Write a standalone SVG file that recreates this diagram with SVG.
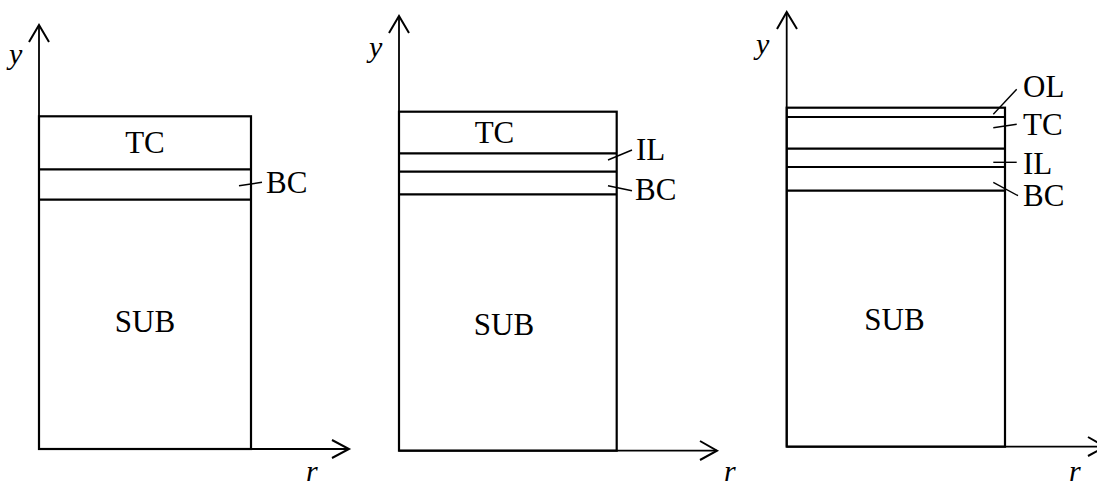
<svg xmlns="http://www.w3.org/2000/svg" width="1097" height="486" viewBox="0 0 1097 486">
<style>
.ax{stroke:#000;stroke-width:1.8;fill:none}
.hd{stroke:#000;stroke-width:2;fill:none}
.bx{stroke:#000;stroke-width:2.2;fill:none}
.ld{stroke:#000;stroke-width:1.4;fill:none}
.t{font-family:"Liberation Serif","Times New Roman",serif;font-size:31px;fill:#000}
.i{font-family:"Liberation Serif","Times New Roman",serif;font-size:30px;font-style:italic;fill:#000}
</style>
<rect width="1097" height="486" fill="#fff"/>
<g id="connectors">
<line class="ax" x1="39" y1="449" x2="39" y2="26"/>
<polyline class="hd" points="29,42 39,25 49,42"/>
<line class="ax" x1="39" y1="449" x2="349" y2="449"/>
<polyline class="hd" points="332,440 349,449 332,458"/>
<line class="ax" x1="399" y1="450.7" x2="399" y2="17"/>
<polyline class="hd" points="389,33 399,16 409,33"/>
<line class="ax" x1="399" y1="450.7" x2="717" y2="450.7"/>
<polyline class="hd" points="700,441 717,450.7 700,460"/>
<line class="ax" x1="786.7" y1="446.7" x2="786.7" y2="13"/>
<polyline class="hd" points="777,29 786.7,12 797,29"/>
<line class="ax" x1="786.7" y1="446.7" x2="1105" y2="446.7"/>
<polyline class="hd" points="1088,437 1105,446.7 1088,456"/>
<line class="ld" x1="239" y1="185.7" x2="262" y2="182.3"/>
<line class="ld" x1="608" y1="160" x2="632" y2="150"/>
<line class="ld" x1="608" y1="185.7" x2="632" y2="190.7"/>
<line class="ld" x1="993.3" y1="114.3" x2="1016.7" y2="89.3"/>
<line class="ld" x1="993.3" y1="127.7" x2="1016.7" y2="124.3"/>
<line class="ld" x1="993.3" y1="162.3" x2="1016.7" y2="162.3"/>
<line class="ld" x1="993.3" y1="182.3" x2="1018" y2="195.7"/>
</g>
<g id="panel1">
<rect class="bx" x="39" y="116.3" width="212" height="332.7"/>
<line class="bx" x1="39" y1="169.3" x2="251" y2="169.3"/>
<line class="bx" x1="39" y1="199.7" x2="251" y2="199.7"/>
<text class="i" x="9" y="64">y</text>
<text class="i" x="306" y="481">r</text>
<text class="t" x="145" y="153" text-anchor="middle">TC</text>
<text class="t" x="266" y="193">BC</text>
<text class="t" x="145" y="332" text-anchor="middle">SUB</text>
</g>
<g id="panel2">
<rect class="bx" x="399" y="111.7" width="217.7" height="339"/>
<line class="bx" x1="399" y1="153.3" x2="616.7" y2="153.3"/>
<line class="bx" x1="399" y1="171.7" x2="616.7" y2="171.7"/>
<line class="bx" x1="399" y1="194.3" x2="616.7" y2="194.3"/>
<text class="i" x="369" y="57">y</text>
<text class="i" x="724" y="481">r</text>
<text class="t" x="494.5" y="142.7" text-anchor="middle">TC</text>
<text class="t" x="636" y="160">IL</text>
<text class="t" x="635" y="200">BC</text>
<text class="t" x="504" y="335" text-anchor="middle">SUB</text>
</g>
<g id="panel3">
<rect class="bx" x="786.7" y="107.7" width="218.3" height="339"/>
<line class="bx" x1="786.7" y1="117" x2="1005" y2="117"/>
<line class="bx" x1="786.7" y1="148.7" x2="1005" y2="148.7"/>
<line class="bx" x1="786.7" y1="167" x2="1005" y2="167"/>
<line class="bx" x1="786.7" y1="190.7" x2="1005" y2="190.7"/>
<text class="i" x="756" y="54">y</text>
<text class="i" x="1069" y="481">r</text>
<text class="t" x="1023" y="97.3">OL</text>
<text class="t" x="1023" y="135">TC</text>
<text class="t" x="1023" y="174">IL</text>
<text class="t" x="1023" y="205.7">BC</text>
<text class="t" x="894.5" y="330" text-anchor="middle">SUB</text>
</g>
</svg>
